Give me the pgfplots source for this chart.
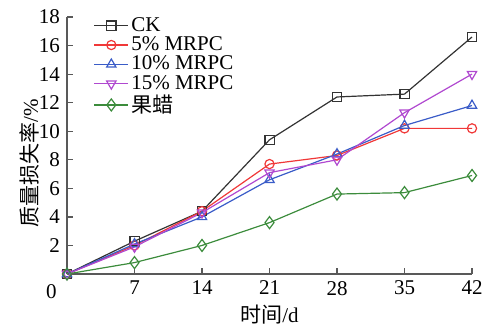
\documentclass[border=0pt]{standalone}
\usepackage{pgfplots}
\pgfplotsset{compat=1.18}
\usepackage{fontspec}
\setmainfont{Liberation Serif}
\newfontfamily\cjk{Noto Sans CJK SC}
\definecolor{ckc}{HTML}{333333}
\definecolor{c5}{HTML}{F03838}
\definecolor{c10}{HTML}{3A5CC8}
\definecolor{c15}{HTML}{B048D0}
\definecolor{cg}{HTML}{3C8C3C}
\begin{document}
\begin{tikzpicture}
\begin{axis}[
  scale only axis, width=202.5pt, height=128.5pt,
  xmin=0, xmax=42, ymin=0, ymax=18,
  axis lines*=left,
  axis line style={color=black!65, line width=0.6pt},
  tick align=inside, major tick length=3pt,
  tick style={color=black!65, line width=0.6pt},
  xtick={7,14,21,28,35,42}, ytick={2,4,...,18},
  /pgf/number format/assume math mode=true,
  ticklabel style={font=\fontsize{10.5}{12}\selectfont},
  xlabel={\cjk 时间\rmfamily/d},
  ylabel={\cjk 质量损失率\rmfamily/\%},
  label style={font=\fontsize{10.5}{12}\selectfont},
  xlabel style={yshift=2pt},
  ylabel style={at={(rel axis cs:-0.0914,0.43)}, anchor=center},
  clip=false,
  legend style={draw=none, fill=none, at={(rel axis cs:0.065,1.01)}, anchor=north west,
    font=\fontsize{10.5}{10}\selectfont, row sep=-1.2pt, inner sep=0pt,
    nodes={inner sep=1.2pt}},
  legend cell align=left,
  legend image code/.code={\draw[#1] (0pt,0pt) -- (17pt,0pt); \draw[#1, mark repeat=2, mark phase=2] plot coordinates {(0pt,0pt) (8.5pt,0pt) (17pt,0pt)};},
  every axis plot/.append style={line width=0.6pt, mark size=2.3pt, mark options={solid, fill=white}},
]
\addplot[color=ckc, mark=square] coordinates {(0,0) (7,2.3) (14,4.4) (21,9.4) (28,12.4) (35,12.6) (42,16.6)};
\addplot[color=c5, mark=o] coordinates {(0,0) (7,2.0) (14,4.4) (21,7.7) (28,8.3) (35,10.2) (42,10.2)};
\addplot[color=c10, mark=triangle, mark size=2.7pt] coordinates {(0,0) (7,2.1) (14,4.0) (21,6.6) (28,8.4) (35,10.4) (42,11.8)};
\addplot[color=c15, mark=triangle, mark size=2.7pt, mark options={rotate=180}] coordinates {(0,0) (7,1.9) (14,4.3) (21,7.1) (28,8.0) (35,11.3) (42,14.0)};
\addplot[color=cg, mark=diamond, mark size=3pt] coordinates {(0,0) (7,0.8) (14,2.0) (21,3.6) (28,5.6) (35,5.7) (42,6.9)};
\legend{CK, 5\% MRPC, 10\% MRPC, 15\% MRPC, {\cjk 果蜡}}
\node[anchor=north east, font=\fontsize{10.5}{12}\selectfont, inner sep=0pt] at ([xshift=-5pt, yshift=-5pt]rel axis cs:0,0) {0};
\end{axis}
\pgfresetboundingbox
\path (-33.5pt,-27.5pt) rectangle (209pt,137pt);
\end{tikzpicture}
\end{document}
